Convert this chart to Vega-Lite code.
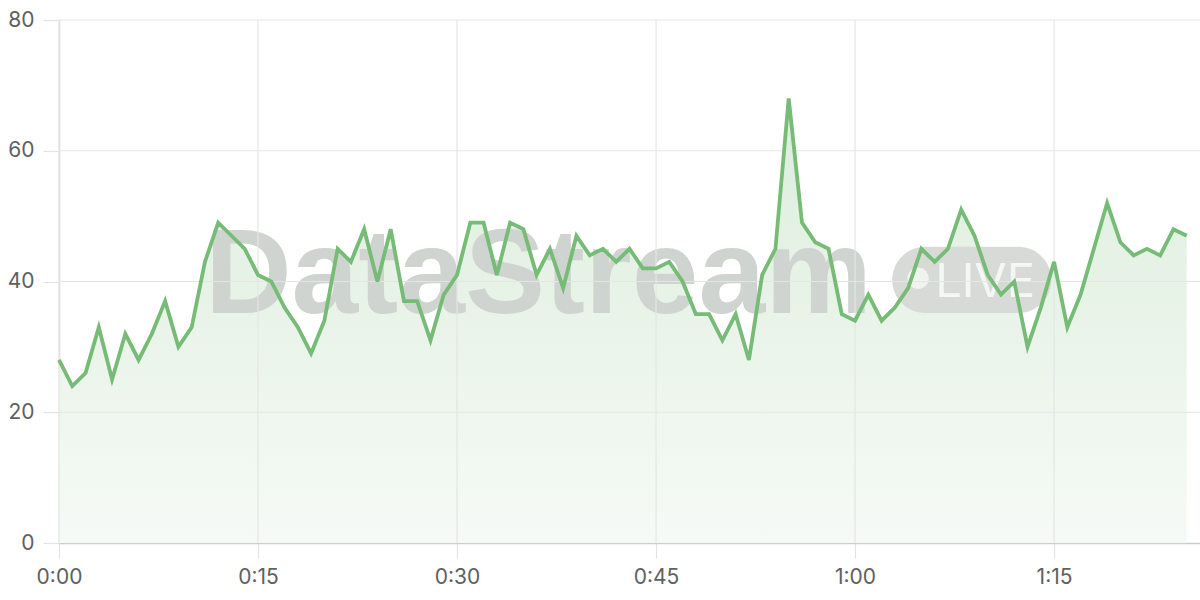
{
  "$schema": "https://vega.github.io/schema/vega-lite/v6.json",
  "width": 1141,
  "height": 523,
  "autosize": {"type": "none"},
  "padding": {"left": 59, "top": 20, "right": 0, "bottom": 57},
  "background": "#ffffff",
  "config": {
    "view": {"stroke": null},
    "font": "Inter",
    "axis": {
      "labelFont": "Inter",
      "labelFontSize": 21,
      "labelColor": "#606060",
      "grid": false,
      "tickColor": "#e3e3e3",
      "tickWidth": 1.2,
      "title": null,
      "zindex": 1
    }
  },
  "datasets": {
    "series": [
      {"t": 0, "v": 28}, {"t": 1, "v": 24}, {"t": 2, "v": 26}, {"t": 3, "v": 33}, {"t": 4, "v": 25},
      {"t": 5, "v": 32}, {"t": 6, "v": 28}, {"t": 7, "v": 32}, {"t": 8, "v": 37}, {"t": 9, "v": 30},
      {"t": 10, "v": 33}, {"t": 11, "v": 43}, {"t": 12, "v": 49}, {"t": 13, "v": 47}, {"t": 14, "v": 45},
      {"t": 15, "v": 41}, {"t": 16, "v": 40}, {"t": 17, "v": 36}, {"t": 18, "v": 33}, {"t": 19, "v": 29},
      {"t": 20, "v": 34}, {"t": 21, "v": 45}, {"t": 22, "v": 43}, {"t": 23, "v": 48}, {"t": 24, "v": 40},
      {"t": 25, "v": 48}, {"t": 26, "v": 37}, {"t": 27, "v": 37}, {"t": 28, "v": 31}, {"t": 29, "v": 38},
      {"t": 30, "v": 41}, {"t": 31, "v": 49}, {"t": 32, "v": 49}, {"t": 33, "v": 41}, {"t": 34, "v": 49},
      {"t": 35, "v": 48}, {"t": 36, "v": 41}, {"t": 37, "v": 45}, {"t": 38, "v": 39}, {"t": 39, "v": 47},
      {"t": 40, "v": 44}, {"t": 41, "v": 45}, {"t": 42, "v": 43}, {"t": 43, "v": 45}, {"t": 44, "v": 42},
      {"t": 45, "v": 42}, {"t": 46, "v": 43}, {"t": 47, "v": 40}, {"t": 48, "v": 35}, {"t": 49, "v": 35},
      {"t": 50, "v": 31}, {"t": 51, "v": 35}, {"t": 52, "v": 28}, {"t": 53, "v": 41}, {"t": 54, "v": 45},
      {"t": 55, "v": 68}, {"t": 56, "v": 49}, {"t": 57, "v": 46}, {"t": 58, "v": 45}, {"t": 59, "v": 35},
      {"t": 60, "v": 34}, {"t": 61, "v": 38}, {"t": 62, "v": 34}, {"t": 63, "v": 36}, {"t": 64, "v": 39},
      {"t": 65, "v": 45}, {"t": 66, "v": 43}, {"t": 67, "v": 45}, {"t": 68, "v": 51}, {"t": 69, "v": 47},
      {"t": 70, "v": 41}, {"t": 71, "v": 38}, {"t": 72, "v": 40}, {"t": 73, "v": 30}, {"t": 74, "v": 36},
      {"t": 75, "v": 43}, {"t": 76, "v": 33}, {"t": 77, "v": 38}, {"t": 78, "v": 45}, {"t": 79, "v": 52},
      {"t": 80, "v": 46}, {"t": 81, "v": 44}, {"t": 82, "v": 45}, {"t": 83, "v": 44}, {"t": 84, "v": 48},
      {"t": 85, "v": 47}
    ],
    "xgrid": [{"g": 0}, {"g": 15}, {"g": 30}, {"g": 45}, {"g": 60}, {"g": 75}],
    "ygrid": [{"g": 20}, {"g": 40}, {"g": 60}, {"g": 80}],
    "watermark": [{"brand": "DataStream", "badge": "LIVE"}]
  },
  "layer": [
    {
      "data": {"name": "series"},
      "mark": {
        "type": "area",
        "interpolate": "linear",
        "color": {
          "gradient": "linear",
          "x1": 0, "y1": 1, "x2": 0, "y2": 0,
          "stops": [
            {"offset": 0, "color": "#f6faf6"},
            {"offset": 0.55, "color": "#e8f3e8"},
            {"offset": 1, "color": "#dbeedb"}
          ]
        }
      },
      "encoding": {
        "x": {
          "field": "t",
          "type": "quantitative",
          "scale": {"domain": [0, 86], "nice": false, "zero": false},
          "axis": {
            "values": [0, 15, 30, 45, 60, 75],
            "labelExpr": "floor(datum.value / 60) + ':' + (datum.value % 60 < 10 ? '0' : '') + (datum.value % 60)",
            "tickSize": 15,
            "labelPadding": 8,
            "domainColor": "#cccccc",
            "domainWidth": 1.5,
            "labelFlush": false
          }
        },
        "y": {
          "field": "v",
          "type": "quantitative",
          "scale": {"domain": [0, 80], "nice": false},
          "axis": {
            "values": [0, 20, 40, 60, 80],
            "tickSize": 16,
            "labelPadding": 9,
            "domainColor": "#d8d8d8",
            "domainWidth": 1.5
          }
        }
      }
    },
    {
      "data": {"name": "watermark"},
      "mark": {"type": "rect", "cornerRadius": 33, "color": "#d7dad7"},
      "encoding": {
        "x": {"datum": 62.8},
        "x2": {"datum": 74.8},
        "y": {"datum": 45.3},
        "y2": {"datum": 35.2}
      }
    },
    {
      "data": {"name": "watermark"},
      "mark": {"type": "point", "shape": "circle", "filled": true, "color": "#f1f3f1", "opacity": 1, "size": 460},
      "encoding": {
        "x": {"datum": 64.75},
        "y": {"datum": 40.5}
      }
    },
    {
      "data": {"name": "watermark"},
      "mark": {"type": "text", "font": "Inter", "fontSize": 47, "color": "#f5f7f5", "align": "center", "baseline": "alphabetic"},
      "encoding": {
        "text": {"field": "badge"},
        "x": {"datum": 69.8},
        "y": {"datum": 37.6}
      }
    },
    {
      "data": {"name": "watermark"},
      "mark": {"type": "text", "font": "Liberation Sans", "fontWeight": "bold", "fontSize": 120, "color": "#d0d4d0", "align": "left", "baseline": "alphabetic"},
      "encoding": {
        "text": {"field": "brand"},
        "x": {"datum": 11.0},
        "y": {"datum": 35.2}
      }
    },
    {
      "data": {"name": "xgrid"},
      "mark": {"type": "rule", "color": "#e4e6e4", "strokeWidth": 1.2},
      "encoding": {
        "x": {"field": "g", "type": "quantitative"}
      }
    },
    {
      "data": {"name": "ygrid"},
      "mark": {"type": "rule", "color": "#e4e6e4", "strokeWidth": 1.2},
      "encoding": {
        "y": {"field": "g", "type": "quantitative"}
      }
    },
    {
      "data": {"name": "series"},
      "mark": {"type": "line", "color": "#76bc76", "strokeWidth": 3.8, "strokeJoin": "miter"},
      "encoding": {
        "x": {"field": "t", "type": "quantitative"},
        "y": {"field": "v", "type": "quantitative"}
      }
    }
  ]
}
